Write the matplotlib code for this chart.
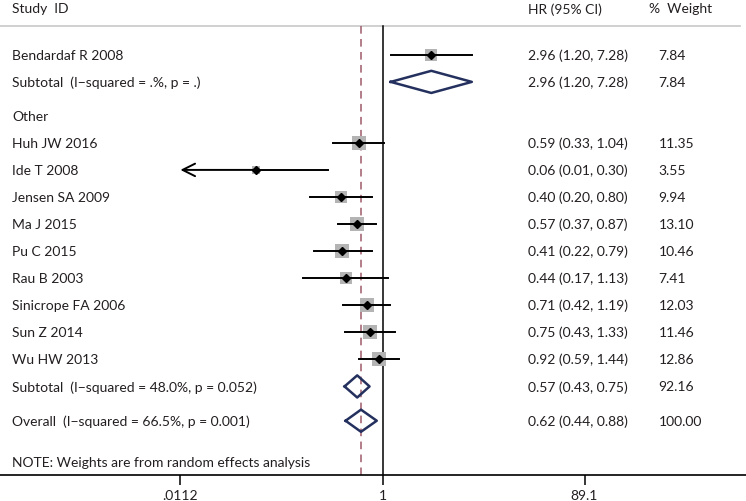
import numpy as np
import matplotlib.pyplot as plt

plt.rcParams['font.family'] = ['Lato', 'DejaVu Sans']

# group 1
g1_names = ["Bendardaf R 2008"]
g1_hr = [2.96]
g1_lo = [1.20]
g1_hi = [7.28]
g1_w = [7.84]
g1_sub = (2.96, 1.20, 7.28, 7.84)
g1_sub_label = "Subtotal  (I\u2212squared = .%, p = .)"

# group "Other"
g2_names = ["Huh JW 2016", "Ide T 2008", "Jensen SA 2009", "Ma J 2015", "Pu C 2015",
            "Rau B 2003", "Sinicrope FA 2006", "Sun Z 2014", "Wu HW 2013"]
g2_hr = [0.59, 0.06, 0.40, 0.57, 0.41, 0.44, 0.71, 0.75, 0.92]
g2_lo = [0.33, 0.01, 0.20, 0.37, 0.22, 0.17, 0.42, 0.43, 0.59]
g2_hi = [1.04, 0.30, 0.80, 0.87, 0.79, 1.13, 1.19, 1.33, 1.44]
g2_w = [11.35, 3.55, 9.94, 13.10, 10.46, 7.41, 12.03, 11.46, 12.86]
g2_sub = (0.57, 0.43, 0.75, 92.16)
g2_sub_label = "Subtotal  (I\u2212squared = 48.0%, p = 0.052)"

overall = (0.62, 0.44, 0.88, 100.00)
overall_label = "Overall  (I\u2212squared = 66.5%, p = 0.001)"

xticks = [0.0112, 1, 89.1]
xtick_labels = [".0112", "1", "89.1"]

txt = '#231f20'
navy = '#24305e'
fs = 10

fig = plt.figure(figsize=(7.46, 5.02), dpi=100)
ax = fig.add_axes([0, 26 / 502, 1, 476 / 502])
ax.set_xscale('log')
ax.set_xlim(10 ** (-382.5 / 103.6), 10 ** (363.5 / 103.6))
ax.set_ylim(15.56, -2.07)

for s in ['top', 'left', 'right']:
    ax.spines[s].set_visible(False)
ax.spines['bottom'].set_linewidth(1.2)
ax.set_yticks([])
ax.set_xticks(xticks)
ax.set_xticklabels(xtick_labels, fontsize=fs, color=txt)
ax.tick_params(axis='x', length=7, width=1.1, pad=3)
ax.xaxis.set_minor_locator(plt.NullLocator())

# row positions
y_g1 = [0]
y_g1_sub = 1
y_other = 2.26
y_g2 = list(np.arange(len(g2_names)) + 3.26)
y_g2_sub = y_g2[-1] + 1.02
y_overall = y_g2_sub + 1.27
y_note = y_overall + 1.51
y_head = -1.72
y_line = -1.07

# header
ax.text(0.016, y_head, "Study  ID", transform=ax.get_yaxis_transform(), fontsize=fs, color=txt, va='center')
ax.text(0.708, y_head, "HR (95% CI)", transform=ax.get_yaxis_transform(), fontsize=fs, color=txt, va='center')
ax.text(0.870, y_head, "%  Weight", transform=ax.get_yaxis_transform(), fontsize=fs, color=txt, va='center')
ax.plot([0, 0.992], [y_line, y_line], transform=ax.get_yaxis_transform(), color='#c8c8c8', lw=1.2, clip_on=False)

# reference lines
ax.plot([1, 1], [y_line, 15.56], color='black', lw=1.1)
ax.plot([overall[0], overall[0]], [y_line, 15.56], color='#9c5a68', lw=1.1, dashes=(5, 3.5))

xmin = xticks[0]


def study_rows(names, hr, lo, hi, w, ys):
    tr = ax.get_yaxis_transform()
    for n, h, l, u, wt, y in zip(names, hr, lo, hi, w, ys):
        ax.scatter([h], [y], marker='s', s=8.7 * wt, color='#b4b4b4', lw=0, zorder=2)
        if l < xmin:
            # CI runs past the axis: draw an arrow to the edge
            ax.plot([h, u], [y, y], color='black', lw=1.4, zorder=3)
            ax.annotate('', xy=(xmin, y), xytext=(h, y),
                        arrowprops=dict(arrowstyle='->, head_length=0.9, head_width=0.45',
                                        lw=1.4, color='black', shrinkA=0, shrinkB=0), zorder=3)
        else:
            ax.plot([l, u], [y, y], color='black', lw=1.4, zorder=3)
        ax.plot([h], [y], marker='D', ms=3.6, color='black', zorder=4)
        ax.text(0.016, y, n, transform=tr, fontsize=fs, color=txt, va='center')
        ax.text(0.708, y, f"{h:.2f} ({l:.2f}, {u:.2f})", transform=tr, fontsize=fs, color=txt, va='center')
        ax.text(0.883, y, f"{wt:.2f}", transform=tr, fontsize=fs, color=txt, va='center')


def diamond(est, label, y):
    h, l, u, wt = est
    ax.plot([l, h, u, h, l], [y, y - 0.41, y, y + 0.41, y], color=navy, lw=1.8, zorder=3)
    tr = ax.get_yaxis_transform()
    ax.text(0.016, y, label, transform=tr, fontsize=fs, color=txt, va='center')
    ax.text(0.708, y, f"{h:.2f} ({l:.2f}, {u:.2f})", transform=tr, fontsize=fs, color=txt, va='center')
    ax.text(0.883, y, f"{wt:.2f}", transform=tr, fontsize=fs, color=txt, va='center')


study_rows(g1_names, g1_hr, g1_lo, g1_hi, g1_w, y_g1)
diamond(g1_sub, g1_sub_label, y_g1_sub)
ax.text(0.016, y_other, "Other", transform=ax.get_yaxis_transform(), fontsize=fs, color=txt, va='center')
study_rows(g2_names, g2_hr, g2_lo, g2_hi, g2_w, y_g2)
diamond(g2_sub, g2_sub_label, y_g2_sub)
diamond(overall, overall_label, y_overall)
ax.text(0.016, y_note, "NOTE: Weights are from random effects analysis", transform=ax.get_yaxis_transform(),
        fontsize=fs, color=txt, va='center')

fig.savefig('out.png', dpi=100)
